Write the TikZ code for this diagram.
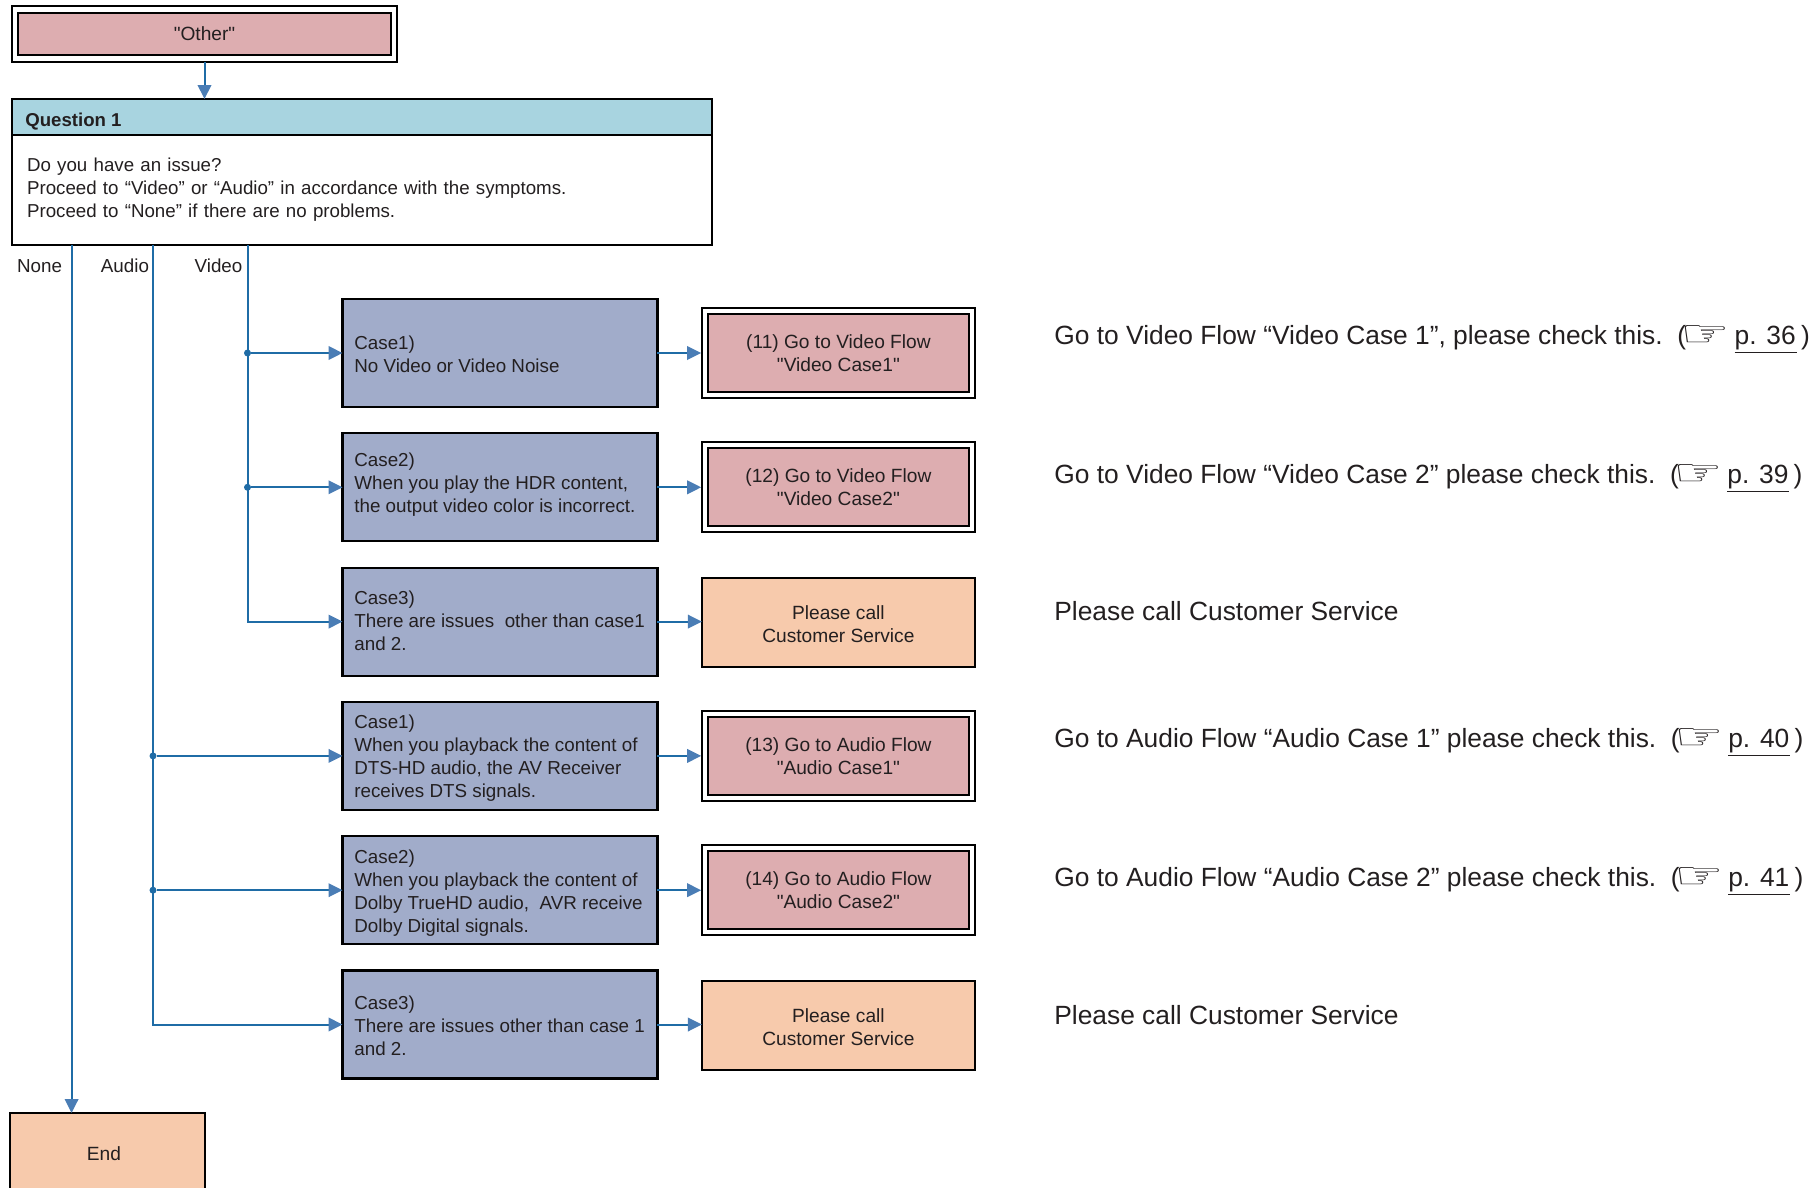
\documentclass[tikz,border=0pt]{standalone}
\usepackage{fontspec}
\usepackage{graphicx}
\setmainfont{Liberation Sans}[Ligatures=TeXOff]
\newfontfamily\handfont{DejaVu Sans}
\usetikzlibrary{arrows.meta}
\definecolor{flowpink}{HTML}{DDADB0}
\definecolor{caseblue}{HTML}{A1ACCA}
\definecolor{endorange}{HTML}{F7CAAC}
\definecolor{headblue}{HTML}{A8D4E0}
\definecolor{linkblue}{HTML}{1F6CA6}
\definecolor{tipblue}{HTML}{4A7DB5}
\definecolor{inkblack}{HTML}{231F20}
\newcommand{\handpt}{\kern-.11cm\raisebox{-.1em}{\handfont\scalebox{2.1}[1.4]{☞}}}
\tikzset{
 boxbase/.style={draw=black, line width=.044cm, text=inkblack, font=\fontsize{10.9}{13.1}\selectfont, inner sep=0pt, outer sep=0pt},
 casebox/.style={boxbase, fill=caseblue, minimum width=6.3cm, minimum height=2.16cm},
 flowbox/.style={boxbase, fill=flowpink, line width=.038cm, double=white, double distance=.085cm, minimum width=5.33cm, minimum height=1.68cm, align=center, outer sep=.08cm},
 callbox/.style={boxbase, fill=endorange, minimum width=5.46cm, minimum height=1.78cm, align=center},
 note/.style={anchor=base west, text=inkblack, font=\fontsize{15}{18}\selectfont, inner sep=0pt},
 label/.style={text=inkblack, font=\fontsize{10.7}{13.1}\selectfont, inner sep=0pt},
 link/.style={draw=linkblue, line width=.04cm, -{Triangle[length=.28cm, width=.27cm, color=tipblue]}},
 joint/.style={circle, fill=linkblue, minimum size=.14cm, inner sep=0pt},
}
\begin{document}
\begin{tikzpicture}[x=.02cm, y=-.02cm]
\clip (0,0) rectangle (1816,1187);
\node[flowbox, minimum width=7.58cm, minimum height=.98cm] (other) at (204.5,34) {"Other"};
\node[boxbase, fill=headblue, minimum width=14cm, minimum height=.72cm] (head) at (362,117) {};
\node[label, anchor=west, font=\fontsize{10.6}{13.1}\selectfont\bfseries] (headtext) at (25,121.5) {Question 1};
\node[boxbase, fill=white, minimum width=14cm, minimum height=2.2cm, text width=13.4cm, inner xsep=.3cm, align=left, font=\fontsize{10.65}{13.1}\selectfont] (question) at (362,190) {Do you have an issue?\\Proceed to “Video” or “Audio” in accordance with the symptoms.\\Proceed to “None” if there are no problems.};
\node[callbox, minimum width=3.9cm, minimum height=1.64cm] (finish) at (107.5,1154) {End\hspace{.14cm}};
\draw[link] (other.south) -- (other.south |- head.north);
% cases
\foreach \n/\y/\d/\t in {
 va/353/1/{Case1)\\No Video or Video Noise},
 vb/487.3/-2.5/{Case2)\\When you play the HDR content,\\the output video color is incorrect.},
 vc/621.6/-1.3/{Case3)\\There are issues~ other than case1\\and 2.},
 aa/755.9/2.3/{Case1)\\When you playback the content of\\DTS-HD audio, the AV Receiver\\receives DTS signals.},
 ab/890.2/2.5/{Case2)\\When you playback the content of\\Dolby TrueHD audio,~ AVR receive\\Dolby Digital signals.},
 ac/1024.5/1/{Case3)\\There are issues other than case 1\\and 2.}} {
 \node[casebox] (case\n) at (500,\y) {};
 \node[label, anchor=west, align=left] (text\n) at (354,{\y+\d}) {\t};
}
% flows
\foreach \n/\y/\t in {
 va/353/{(11) Go to Video Flow\\"Video Case1"},
 vb/487.3/{(12) Go to Video Flow\\"Video Case2"},
 aa/755.9/{(13) Go to Audio Flow\\"Audio Case1"},
 ab/890.2/{(14) Go to Audio Flow\\"Audio Case2"}} {
 \node[flowbox] (flow\n) at (838.4,\y) {\t};
 \draw[link] (case\n.east) -- (flow\n.west);
}
\foreach \n/\y in {vc/622.6,ac/1025.5} {
 \node[callbox] (flow\n) at (838.4,\y) {};
 \node[label, align=center, font=\fontsize{10.9}{13.1}\selectfont] (calltext\n) at (838.4,{\y+2}) {Please call\\Customer Service};
 \draw[link] (case\n.east) -- (case\n.east -| flow\n.west);
}
% branches
\coordinate (nonetop) at (71.6,245);
\coordinate (audiotop) at (153,245);
\coordinate (videotop) at (247.5,245);
\draw[link] (nonetop) -- (nonetop |- finish.north);
\draw[link] (videotop) |- (casevc.west);
\draw[link] (audiotop) |- (caseac.west);
\foreach \n in {va,vb} {
 \node[joint] (dot\n) at (videotop |- case\n.west) {};
 \draw[link] (dot\n) -- (case\n.west);
}
\foreach \n in {aa,ab} {
 \node[joint] (dot\n) at (audiotop |- case\n.west) {};
 \draw[link] (dot\n) -- (case\n.west);
}
\node[label] (nonelabel) at (39.5,266) {None};
\node[label] (audiolabel) at (125,266) {Audio};
\node[label] (videolabel) at (218.5,266) {Video};
% notes
\node[note] (notea) at (1054,344) {Go to Video Flow “Video Case 1”, please check this.\ \ (\handpt\,\underline{p. 36\kern.5pt}\,)};
\node[note] (noteb) at (1054,483) {Go to Video Flow “Video Case 2” please check this.\ \ (\handpt\,\underline{p. 39\kern.5pt}\,)};
\node[note] (notec) at (1054,620.5) {Please call Customer Service};
\node[note] (noted) at (1054,747) {Go to Audio Flow “Audio Case 1” please check this.\ \ (\handpt\,\underline{p. 40\kern.5pt}\,)};
\node[note] (notee) at (1054,886) {Go to Audio Flow “Audio Case 2” please check this.\ \ (\handpt\,\underline{p. 41\kern.5pt}\,)};
\node[note] (notef) at (1054,1024.5) {Please call Customer Service};
\end{tikzpicture}
\end{document}
